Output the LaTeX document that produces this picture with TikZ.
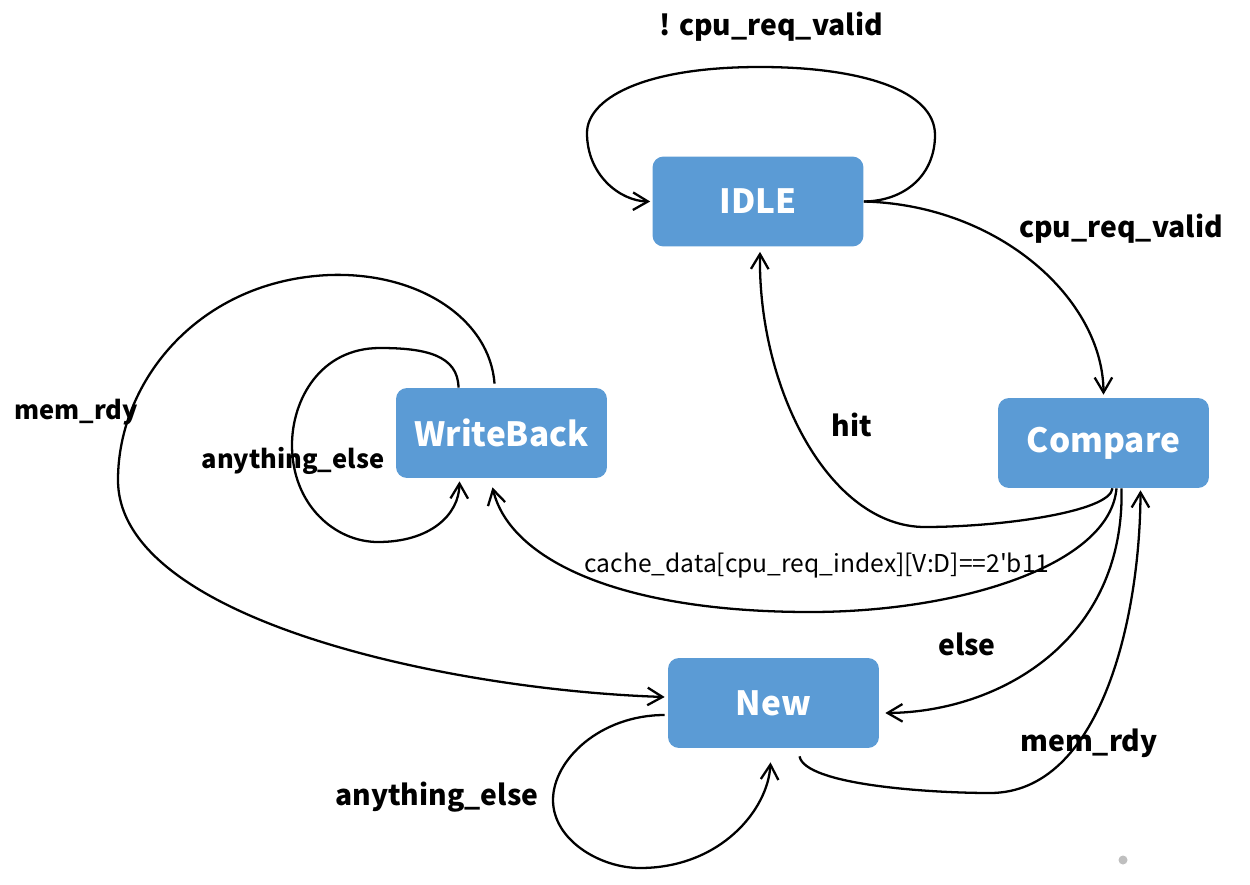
\documentclass[tikz,border=0pt]{standalone}
\usepackage{fontspec}
\newfontfamily\yahei{Noto Sans CJK SC}
\usetikzlibrary{arrows.meta,calc}
\definecolor{stateblue}{HTML}{5B9BD5}
\tikzset{
  state/.style={fill=stateblue,rounded corners=0.22cm,minimum width=4.22cm,minimum height=1.8cm,
    text=white,font=\yahei\bfseries\fontsize{19}{19}\selectfont},
  lbl/.style={inner sep=0pt,font=\yahei\bfseries\fontsize{16.1}{16.1}\selectfont},
  small/.style={inner sep=0pt,font=\yahei\bfseries\fontsize{14.5}{14.5}\selectfont},
  cond/.style={inner sep=0pt,font=\yahei\fontsize{14}{14}\selectfont},
  trans/.style={->,>={Straight Barb[length=8.5pt,width=10pt]},line width=1.3pt},
}

\begin{document}
\begin{tikzpicture}[x=0.02cm,y=-0.02cm]
   \useasboundingbox (0,0) rectangle (1250,885);
   \node[state] (idle) at (758,201.5) {IDLE};
   \node[state] (wb)   at (501.5,433) {WriteBack};
   \node[state] (cmp)  at (1103.5,443) {Compare};
   \node[state] (new)  at (773.5,703) {New};
   \draw[trans] (idle.east) .. controls (905,201) and (935,175) .. (935,135)
      .. controls (935,90) and (860,67) .. (760,67)
      .. controls (640,67) and (587,100) .. (587,133)
      .. controls (587,175) and (620,201) .. ($(idle.west)+(-2,0)$);
   \draw[trans] (idle.east) .. controls (1000,205) and (1103,300) .. ($(cmp.north)+(0,-3)$);
   \draw[trans] ($(cmp.south)+(9,0)$) .. controls (1110,512) and (1000,527) .. (925,527)
      .. controls (830,527) and (758,390) .. ($(idle.south)+(2,5)$);
   \draw[trans] ($(cmp.south)+(13,0)$) .. controls (1110,565) and (960,612) .. (810,612)
      .. controls (620,612) and (510,560) .. ($(wb.south)+(-9,9)$);
   \draw[trans] ($(cmp.south)+(18,0)$) .. controls (1125,640) and (1000,712) .. ($(new.east)+(6,10)$);
   \draw[trans] ($(new.south)+(26,8)$) .. controls (805,785) and (930,793) .. (990,793)
      .. controls (1100,793) and (1140,620) .. ($(cmp.south)+(37,2)$);
   \draw[trans] ($(wb.north)+(-7,-4)$) .. controls (490,320) and (420,272) .. (330,275)
      .. controls (200,280) and (118,380) .. (118,480)
      .. controls (118,620) and (450,690) .. ($(new.west)+(-3,-6)$);
   \draw[trans] ($(wb.north)+(-43,0)$) .. controls (458,355) and (425,348) .. (380,348)
      .. controls (320,348) and (292,400) .. (292,445)
      .. controls (292,505) and (335,542) .. (378,542)
      .. controls (430,542) and (459,515) .. ($(wb.south)+(-42,3)$);
   \draw[trans] ($(new.west)+(-3,12)$) .. controls (600,715) and (553,760) .. (553,800)
      .. controls (553,840) and (600,868) .. (640,868)
      .. controls (720,868) and (768,810) .. ($(new.south)+(-3,14)$);
   \node[lbl]   (lloop)  at (771,27)  {! cpu\_req\_valid};
   \node[lbl]   (lvalid) at (1121,229) {cpu\_req\_valid};
   \node[lbl]   (lhit)   at (852,425) {hit};
   \node[small] (lrdyw)  at (76,412)  {mem\_rdy};
   \node[small] (lwbany) at (293,461) {anything\_else};
   \node[cond]  (ldirty) at (817,566) {cache\_data[cpu\_req\_index][V:D]==2'b11};
   \node[lbl]   (lelse)  at (967,644) {else};
   \node[lbl]   (lrdyn)  at (1089,743) {mem\_rdy};
   \node[lbl]   (lnwany) at (437,797) {anything\_else};
   \fill[black!25] (1123,860) circle (4.5);
\end{tikzpicture}
\end{document}
